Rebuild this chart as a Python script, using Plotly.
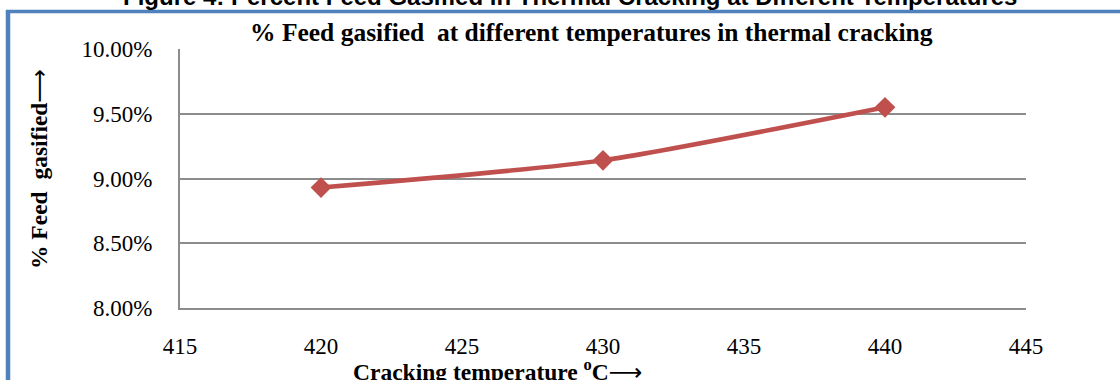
import plotly.graph_objects as go

temperatures = [420, 430, 440]
feed_gasified = [0.0893, 0.0914, 0.0955]
x_ticks = [415, 420, 425, 430, 435, 440, 445]
y_ticks = [0.08, 0.085, 0.09, 0.095, 0.10]

W, H = 1120, 380
L, R, T, B = 180, 1026, 49, 308

def px(x):
    return (x - L) / (R - L)

def py(y):
    return (B - y) / (B - T)

fig = go.Figure()
fig.add_trace(go.Scatter(
    x=temperatures, y=feed_gasified, mode="lines+markers",
    line=dict(color="#C0504D", width=4.5, shape="spline", smoothing=0.6),
    marker=dict(symbol="diamond", size=16, color="#C0504D"),
    showlegend=False,
))

serif = "Liberation Serif, Times New Roman, serif"
arrow = '<span style="font-family:DejaVu Sans">⟶</span>'
fig.update_layout(
    width=W, height=H,
    margin=dict(l=L, r=W - R, t=T, b=H - B),
    paper_bgcolor="white", plot_bgcolor="white",
    font=dict(family=serif, color="black"),
    xaxis=dict(range=[415, 445], tickvals=x_ticks, showgrid=False,
               showline=True, linecolor="#8C8C8C", linewidth=2,
               ticks="", ticklabelstandoff=16, zeroline=False,
               tickfont=dict(size=23, family=serif, color="black")),
    yaxis=dict(range=[0.08, 0.10], tickvals=y_ticks, tickformat=".2%",
               showgrid=True, gridcolor="#8C8C8C", gridwidth=2,
               showline=True, linecolor="#8C8C8C", linewidth=2,
               ticks="", ticklabelstandoff=21, zeroline=False,
               tickfont=dict(size=23, family=serif, color="black")),
)

annotations = [
    dict(text="<b>% Feed gasified  at different temperatures in thermal cracking</b>",
         x=px(591), y=py(33), xref="paper", yref="paper", showarrow=False,
         xanchor="center", yanchor="middle",
         font=dict(size=25.5, family=serif, color="black")),
    dict(text="<b>Cracking temperature <sup>o</sup>C</b>" + arrow,
         x=px(498), y=py(370), xref="paper", yref="paper", showarrow=False,
         xanchor="center", yanchor="middle",
         font=dict(size=23.5, family=serif, color="black")),
    dict(text="<b>% Feed  gasified</b>" + arrow,
         x=px(39), y=py(169), xref="paper", yref="paper", showarrow=False,
         xanchor="center", yanchor="middle", textangle=-90,
         font=dict(size=23.5, family=serif, color="black")),
    dict(text="<b>Figure 4: Percent Feed Gasified in Thermal Cracking at Different Temperatures</b>",
         x=px(570), y=py(-3), xref="paper", yref="paper", showarrow=False,
         xanchor="center", yanchor="middle",
         font=dict(size=24, family="Liberation Sans, Arial, sans-serif", color="black")),
]
fig.update_layout(annotations=annotations)

border = "#4F81BD"
fig.add_shape(type="line", xref="paper", yref="paper",
              x0=px(6), x1=px(1125), y0=py(11.5), y1=py(11.5),
              line=dict(color=border, width=3.5))
fig.add_shape(type="line", xref="paper", yref="paper",
              x0=px(8), x1=px(8), y0=py(10), y1=py(385),
              line=dict(color=border, width=4.5))

fig.write_html("out.html")
